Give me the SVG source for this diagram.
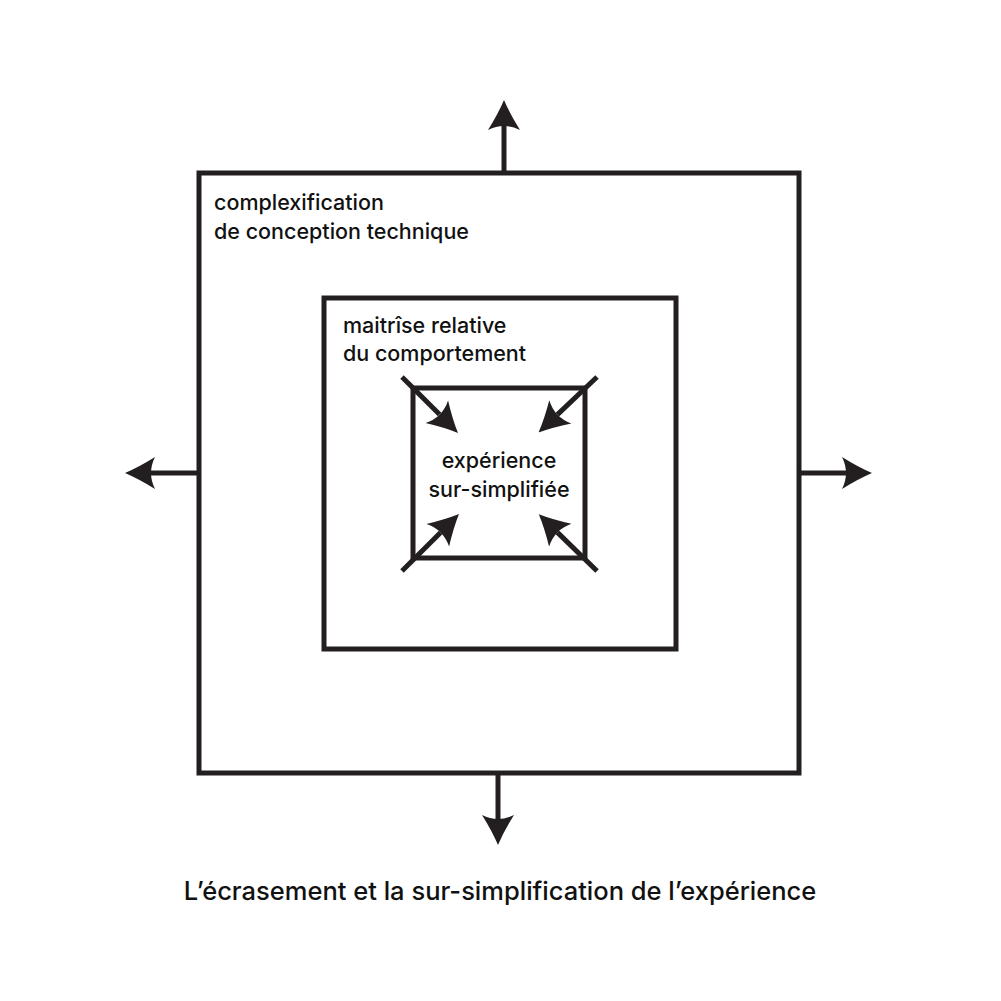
<svg xmlns="http://www.w3.org/2000/svg" width="1001" height="1001" viewBox="0 0 1001 1001">
<defs>
<style>
.box{fill:none;stroke:#231f20;stroke-width:5}
.ln{fill:none;stroke:#231f20;stroke-width:5;marker-end:url(#ah)}
.t{font-family:Inter,"Noto Sans",sans-serif;font-size:21.5px;font-weight:500;fill:#111}
.cap{font-family:Inter,"Noto Sans",sans-serif;font-size:25.5px;font-weight:500;fill:#111}
</style>
<marker id="ah" viewBox="0 -17 30 34" refX="4" refY="0" markerWidth="30" markerHeight="34" markerUnits="userSpaceOnUse" orient="auto">
<path d="M30,0 Q16,-6 0,-16 Q8,0 0,16 Q16,6 30,0 Z" fill="#231f20"/>
</marker>
</defs>
<rect width="1001" height="1001" fill="#fff"/>
<g id="outer"><rect class="box" x="199" y="173" width="600" height="600"/>
<text class="t" x="214" y="210">complexification</text>
<text class="t" x="214" y="239">de conception technique</text></g>
<g id="middle"><rect class="box" x="324" y="298" width="352" height="351"/>
<text class="t" x="343" y="333">maitrîse relative</text>
<text class="t" x="343" y="361">du comportement</text></g>
<g id="inner"><rect class="box" x="413" y="388" width="172" height="170"/>
<text class="t" x="499" y="468" text-anchor="middle">expérience</text>
<text class="t" x="499" y="497" text-anchor="middle">sur-simplifiée</text></g>
<g id="connectors">
<line class="ln" x1="504" y1="173" x2="504" y2="126"/>
<line class="ln" x1="498" y1="773" x2="498" y2="819"/>
<line class="ln" x1="199" y1="473" x2="151" y2="473"/>
<line class="ln" x1="799" y1="473" x2="846" y2="473"/>
<line class="ln" x1="402" y1="377" x2="439.6" y2="414.6"/>
<line class="ln" x1="597" y1="377" x2="557.4" y2="414.6"/>
<line class="ln" x1="402" y1="571" x2="440.6" y2="532.4"/>
<line class="ln" x1="597" y1="571" x2="557.4" y2="532.4"/>
</g>
<text id="caption" class="cap" x="500" y="900" text-anchor="middle">L’écrasement et la sur-simplification de l’expérience</text>
</svg>
